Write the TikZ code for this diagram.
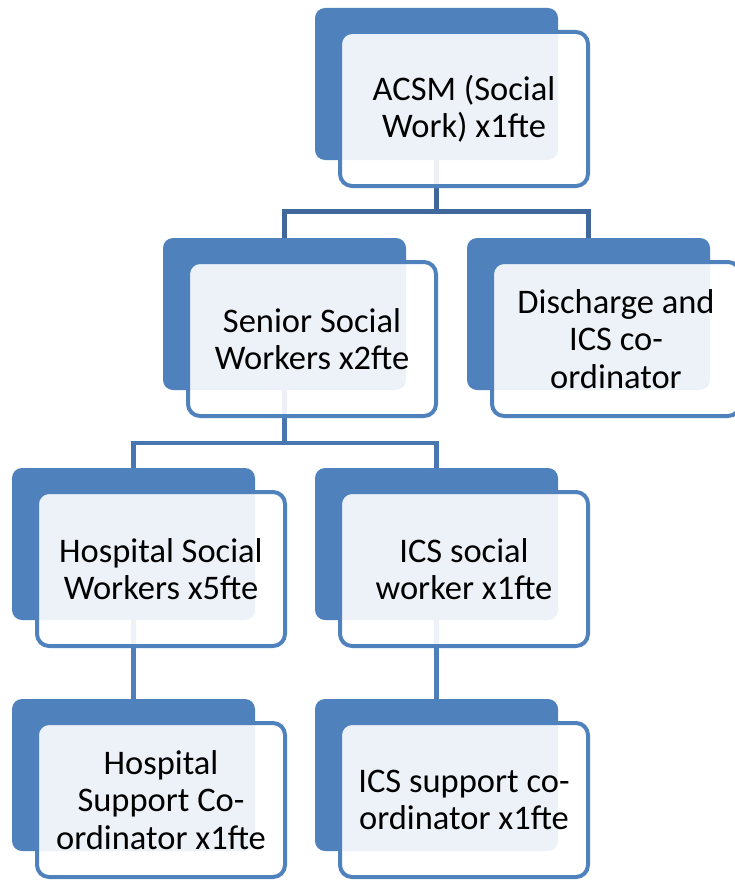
\documentclass[tikz,border=0pt]{standalone}
\usepackage{fontspec}
\setmainfont{Carlito}
\usetikzlibrary{calc,backgrounds}
\definecolor{accent}{HTML}{4F81BD}
\definecolor{linkA}{HTML}{41689C}
\definecolor{linkB}{HTML}{4876B0}
\definecolor{linkC}{HTML}{4F7FBB}
\tikzset{
  backbox/.style={rectangle, rounded corners=10pt, fill=accent, draw=none,
    minimum width=243pt, minimum height=152pt, inner sep=0pt, outer sep=0pt, anchor=north west},
  frontbox/.style={rectangle, rounded corners=12pt, draw=accent, line width=4pt,
    fill=white, fill opacity=0.9, text opacity=1, text=black,
    minimum width=248pt, minimum height=154pt, inner sep=0pt, outer sep=0pt,
    anchor=north west, align=center, font=\fontsize{34.5}{37.5}\selectfont},
  linkone/.style={draw=linkA, line width=5pt},
  linktwo/.style={draw=linkB, line width=4.5pt},
  linkthree/.style={draw=linkC, line width=4.5pt},
}
\begin{document}
\begin{tikzpicture}[x=1pt, y=-1pt]
\useasboundingbox (0,0) rectangle (734,880);

% back plates (top-left corners)
\coordinate (pA) at (315,8);
\coordinate (pS) at (163,238);
\coordinate (pD) at (467,238);
\coordinate (pH) at (12,468);
\coordinate (pI) at (315,468);
\coordinate (pHS) at (12,699);
\coordinate (pIS) at (315,699);

% bus heights of the elbow connectors
\coordinate (busA) at (0,211);
\coordinate (busB) at (0,443);

\node[backbox] (acsmB) at (pA) {};
\node[backbox] (seniorB) at (pS) {};
\node[backbox] (dischB) at (pD) {};
\node[backbox] (hospB) at (pH) {};
\node[backbox] (icsB) at (pI) {};
\node[backbox] (hsupB) at (pHS) {};
\node[backbox] (isupB) at (pIS) {};

% connectors, underneath the plates
\begin{scope}[on background layer]
\draw[linkone] (acsmB.south) -- (acsmB.south |- busA) -| (seniorB.north);
\draw[linkone] (acsmB.south |- busA) -| (dischB.north);
\draw[linktwo] (seniorB.south) -- (seniorB.south |- busB) -| (hospB.north);
\draw[linktwo] (seniorB.south |- busB) -| (icsB.north);
\draw[linkthree] (hospB.south) -- (hsupB.north);
\draw[linkthree] (icsB.south) -- (isupB.north);
\end{scope}

% front cards with the role titles
\node[frontbox] (acsm) at ($(pA)+(25,24)$) {ACSM (Social\\Work) x1fte};
\node[frontbox] (senior) at ($(pS)+(25,24)$) {Senior Social\\Workers x2fte};
\node[frontbox] (disch) at ($(pD)+(25,24)$) {Discharge and\\ICS co-\\ordinator};
\node[frontbox] (hosp) at ($(pH)+(25,24)$) {Hospital Social\\Workers x5fte};
\node[frontbox] (ics) at ($(pI)+(25,24)$) {ICS social\\worker x1fte};
\node[frontbox] (hsup) at ($(pHS)+(25,24)$) {Hospital\\Support Co-\\ordinator x1fte};
\node[frontbox] (isup) at ($(pIS)+(25,24)$) {ICS support co-\\ordinator x1fte};
\end{tikzpicture}
\end{document}
